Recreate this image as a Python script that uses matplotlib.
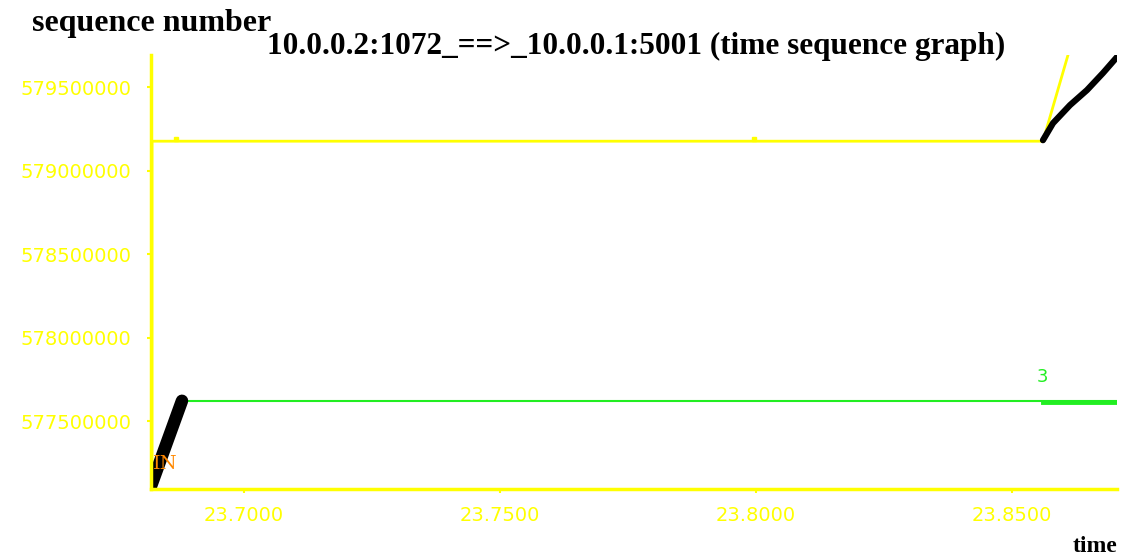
import matplotlib
matplotlib.use("Agg")
import matplotlib.pyplot as plt

# tcptrace time-sequence data for 10.0.0.2:1072 -> 10.0.0.1:5001
data_t1 = [23.68164, 23.68789]
data_s1 = [577094000, 577622000]
data_t2 = [23.85605, 23.85801, 23.86133, 23.86465, 23.86777, 23.87051]
data_s2 = [579182000, 579284000, 579392000, 579482000, 579584000, 579680000]

ack_t = [23.68789, 23.87051]
ack_s = [577622000, 577622000]
dupack_t = [23.85605, 23.87051]
dupack_s = [577616000, 577616000]

win_t = [23.68203, 23.68203, 23.85605, 23.86094]
win_s = [577094000, 579176000, 579176000, 579692000]
win_marks_t = [23.68672, 23.79961]
win_marks_s = [579190000, 579190000]

yticks = [577500000, 578000000, 578500000, 579000000, 579500000]
xticks = [23.70, 23.75, 23.80, 23.85]
xticklabels = ["23.7000", "23.7500", "23.8000", "23.8500"]

yellow = "#ffff00"
green = "#22ee22"
orange = "#ff8800"

fig = plt.figure(figsize=(11.25, 5.59), dpi=100)
ax = fig.add_axes([151 / 1125, 70 / 559, 966 / 1125, 434 / 559])

ax.plot(win_t, win_s, color=yellow, lw=2)
ax.plot(win_marks_t, win_marks_s, ls="none", marker="s", ms=2.5, color=yellow)
ax.plot(ack_t, ack_s, color=green, lw=1.5)
ax.plot(dupack_t, dupack_s, color=green, lw=3.5)
ax.plot(data_t1, data_s1, color="black", lw=9, solid_capstyle="round")
ax.plot(data_t2, data_s2, color="black", lw=4.5, solid_capstyle="round",
        solid_joinstyle="round")

ax.text(23.68457, 577244000, "IN", color=orange, fontsize=14, family="DejaVu Serif",
        ha="center", va="center")
ax.text(23.85586, 577712000, "3", color=green, fontsize=13, family="DejaVu Sans",
        ha="center", va="bottom")

ax.set_xlim(23.68184, 23.87051)
ax.set_ylim(577094000, 579692000)
ax.set_xticks(xticks)
ax.set_xticklabels(xticklabels)
ax.set_yticks(yticks)
ax.set_yticklabels([str(v) for v in yticks])

for side in ["top", "right"]:
    ax.spines[side].set_visible(False)
for side in ["left", "bottom"]:
    ax.spines[side].set_color(yellow)
    ax.spines[side].set_linewidth(2.5)

ax.tick_params(axis="x", colors=yellow, length=3, width=1.5, pad=9, labelsize=14)
ax.tick_params(axis="y", colors=yellow, length=3, width=1.5, pad=11, labelsize=14)
for lab in ax.get_xticklabels() + ax.get_yticklabels():
    lab.set_family("DejaVu Sans")

fig.text(32 / 1125, 1 - 23 / 559, "sequence number", fontsize=23, fontweight="bold",
         family="Liberation Serif", ha="left", va="center")
fig.text(636 / 1125, 1 - 46 / 559,
         "10.0.0.2:1072_==>_10.0.0.1:5001 (time sequence graph)",
         fontsize=22.5, fontweight="bold", family="Liberation Serif",
         ha="center", va="center")
fig.text(1117 / 1125, 1 - 547 / 559, "time", fontsize=17, fontweight="bold",
         family="Liberation Serif", ha="right", va="center")

fig.savefig("out.png", dpi=100)
